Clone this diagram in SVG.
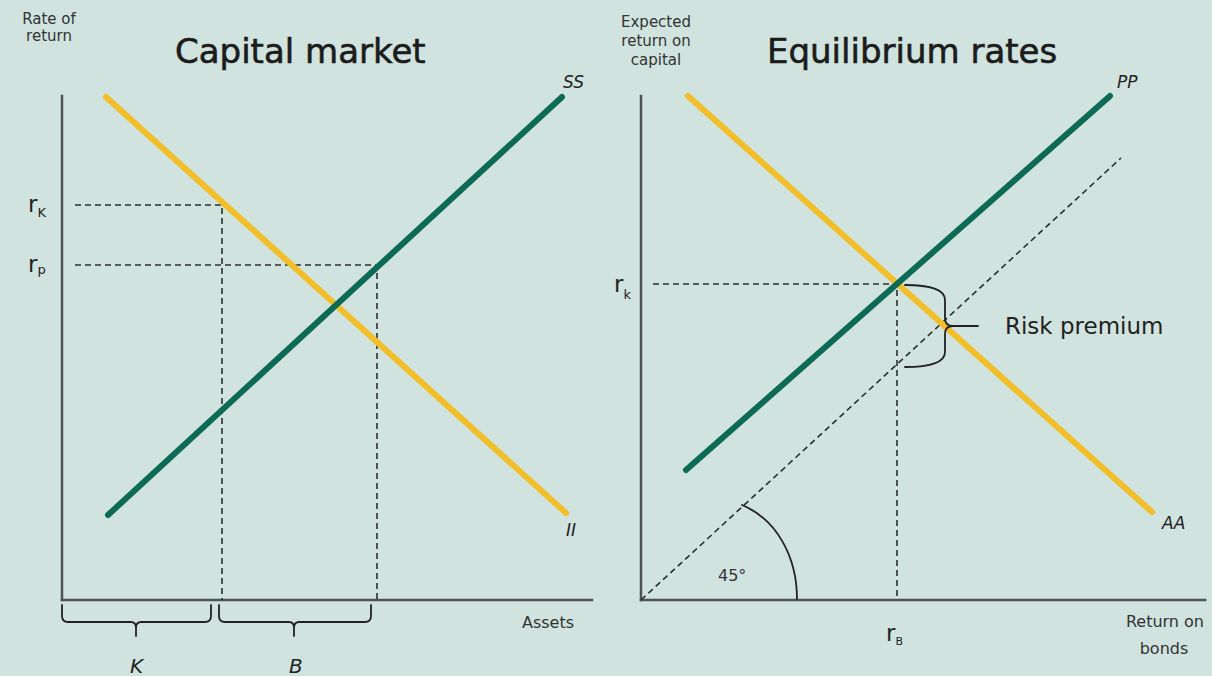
<svg xmlns="http://www.w3.org/2000/svg" width="1212" height="676" viewBox="0 0 1212 676">
  <defs>
    <style>
      .bg { fill: #d0e3df; }
      .axis { stroke: #4d5553; stroke-width: 2.5; fill: none; stroke-linecap: square; }
      .dash { stroke: #2b2f2e; stroke-width: 1.6; fill: none; stroke-dasharray: 6 4; }
      .yel { stroke: #f2bf2a; stroke-width: 6; fill: none; stroke-linecap: round; }
      .grn { stroke: #0d6b55; stroke-width: 6; fill: none; stroke-linecap: round; }
      .ink { stroke: #222; stroke-width: 1.8; fill: none; stroke-linecap: round; stroke-linejoin: round; }
      text { font-family: "DejaVu Sans", "Liberation Sans", sans-serif; fill: #222; }
      .title { font-size: 34px; fill: #1c1c1c; stroke: #1c1c1c; stroke-width: 0.6; }
      .small { font-size: 15px; text-anchor: middle; fill: #333; }
      .lab { font-size: 16px; fill: #333; }
      .it { font-style: italic; font-size: 17px; }
      .r { font-size: 23px; }
      .sub { font-size: 13px; }
    </style>
  </defs>
  <rect class="bg" x="0" y="0" width="1212" height="676"/>

  <g id="capital-market">
    <text class="small" x="49" y="24">Rate of</text>
    <text class="small" x="49" y="41">return</text>
    <text class="title" x="175" y="63">Capital market</text>
    <line class="axis" x1="62" y1="96" x2="62" y2="600"/>
    <line class="axis" x1="62" y1="600" x2="592" y2="600"/>
    <g id="left-guides">
      <path class="dash" d="M75,205 H222 V600"/>
      <path class="dash" d="M75,265 H377 V600"/>
    </g>
    <line id="II" class="yel" x1="106" y1="97" x2="566" y2="513"/>
    <line id="SS" class="grn" x1="108" y1="515" x2="562" y2="97"/>
    <text class="it" x="563" y="88">SS</text>
    <text class="it" x="566" y="536">II</text>
    <text class="r" x="28" y="212">r<tspan class="sub" dy="5">K</tspan></text>
    <text class="r" x="28" y="272">r<tspan class="sub" dy="2">p</tspan></text>
    <text class="lab" x="522" y="628">Assets</text>
    <path class="ink" d="M62,605 V616 Q62,622 68,622 H131 Q136,622 136,628 V636 M136,628 Q136,622 141,622 H205 Q211,622 211,616 V605"/>
    <path class="ink" d="M219,605 V616 Q219,622 225,622 H289 Q294,622 294,628 V636 M294,628 Q294,622 299,622 H365 Q371,622 371,616 V605"/>
    <text class="it" x="130" y="673" style="font-size:20px">K</text>
    <text class="it" x="289" y="673" style="font-size:20px">B</text>
  </g>

  <g id="equilibrium-rates">
    <text class="small" x="656" y="27">Expected</text>
    <text class="small" x="656" y="46">return on</text>
    <text class="small" x="656" y="65">capital</text>
    <text class="title" x="767" y="63">Equilibrium rates</text>
    <line class="axis" x1="641" y1="96" x2="641" y2="600"/>
    <line class="axis" x1="641" y1="600" x2="1205" y2="600"/>
    <g id="right-guides">
      <path class="dash" d="M653,284 H897 V600"/>
      <line class="dash" x1="641" y1="600" x2="1121" y2="158"/>
    </g>
    <line id="AA" class="yel" x1="688" y1="96" x2="1152" y2="512"/>
    <line id="PP" class="grn" x1="686" y1="470" x2="1110" y2="96"/>
    <text class="it" x="1117" y="88">PP</text>
    <text class="it" x="1162" y="529">AA</text>
    <text class="r" x="614" y="292">r<tspan class="sub" dy="7">k</tspan></text>
    <text class="r" x="886" y="641">r<tspan class="sub" dy="4" style="font-size:11px">B</tspan></text>
    <path class="ink" d="M905,285 Q945,285 945,300 V318 Q945,326 953,326 Q945,326 945,334 V352 Q945,367 905,367"/>
    <line class="ink" x1="953" y1="326" x2="978" y2="326"/>
    <text x="1005" y="334" style="font-size:23px">Risk premium</text>
    <path class="ink" d="M742,505 C776,519 797,556 797,599"/>
    <text x="718" y="581" style="font-size:16px;fill:#333">45°</text>
    <text class="lab" x="1204" y="627" style="text-anchor:end">Return on</text>
    <text class="lab" x="1164" y="654" style="text-anchor:middle">bonds</text>
  </g>
</svg>
